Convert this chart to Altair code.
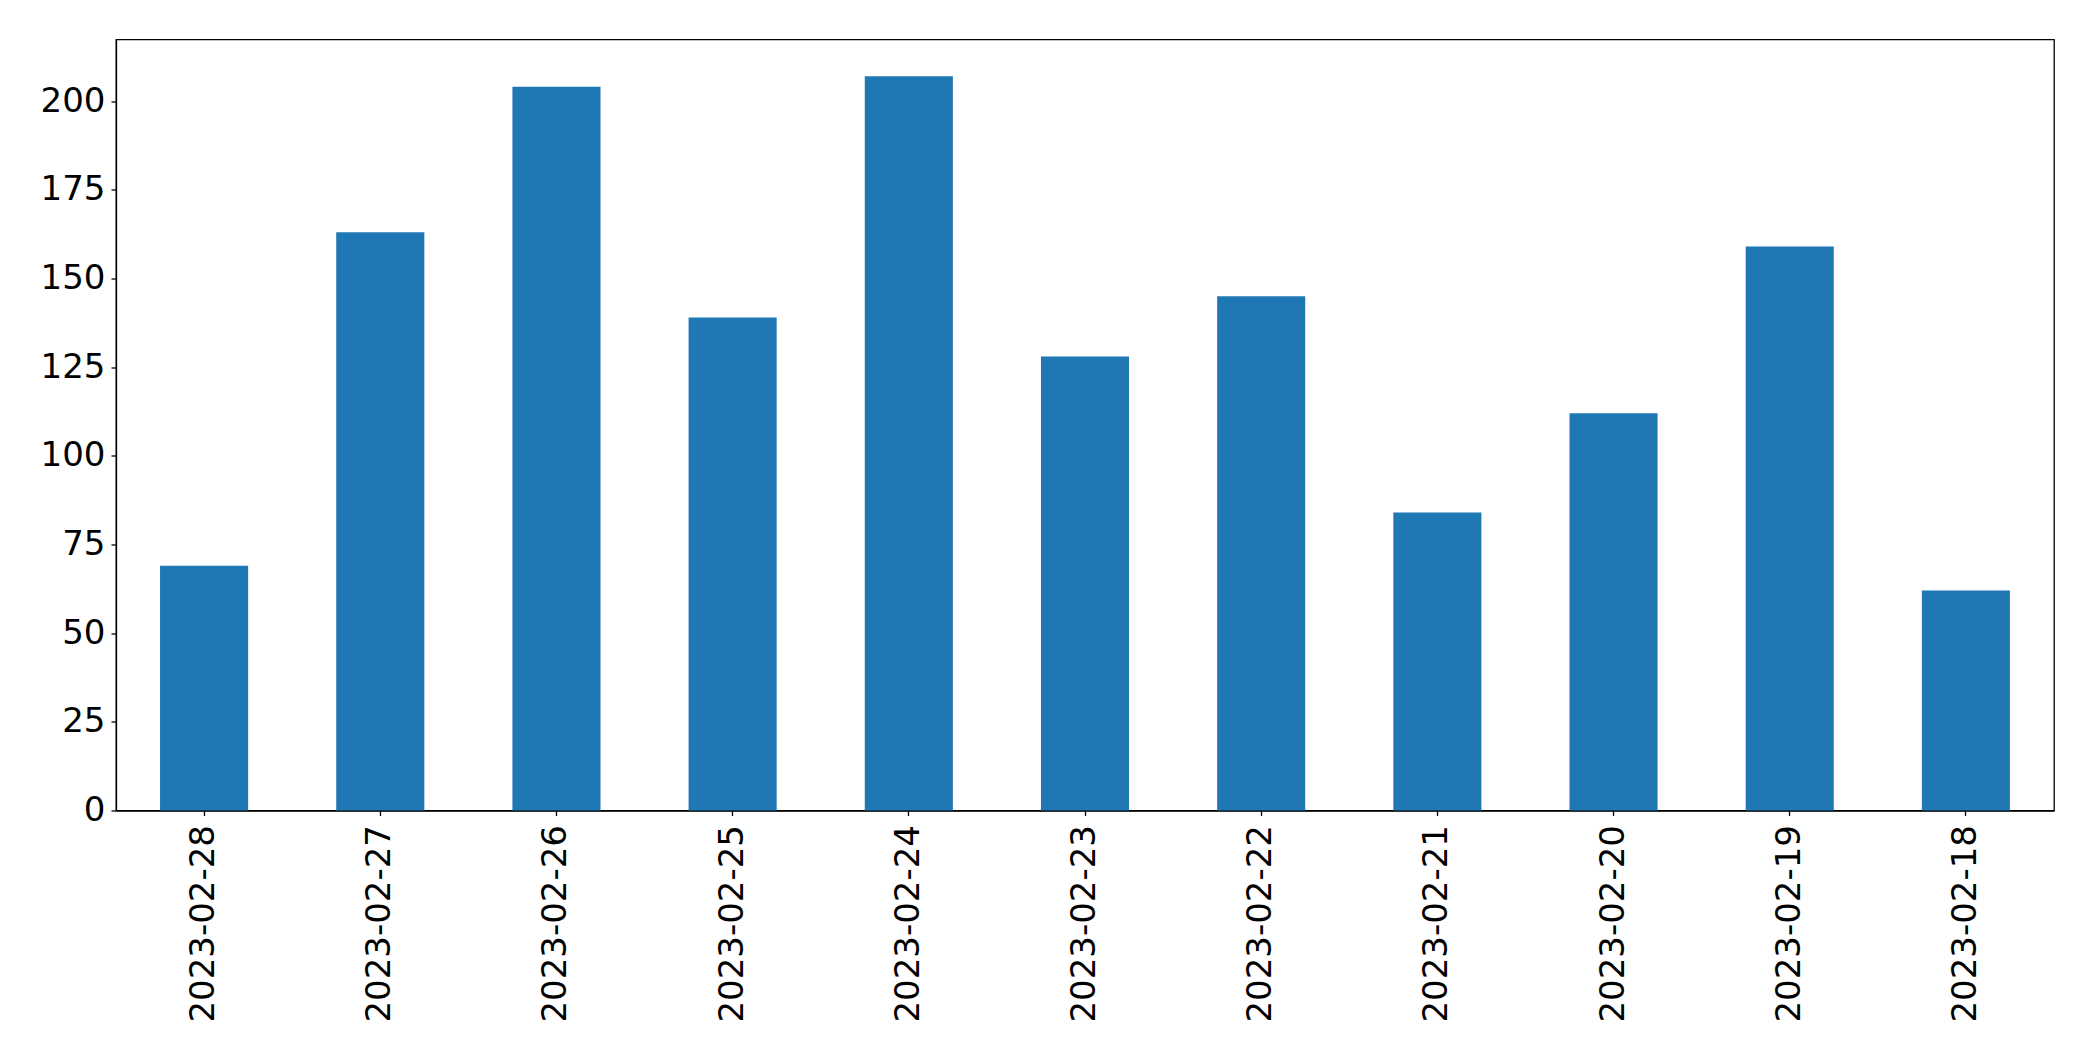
import altair as alt
import pandas as pd

dates = ["2023-02-28", "2023-02-27", "2023-02-26", "2023-02-25", "2023-02-24",
         "2023-02-23", "2023-02-22", "2023-02-21", "2023-02-20", "2023-02-19",
         "2023-02-18"]
counts = [69, 163, 204, 139, 207, 128, 145, 84, 112, 159, 62]
y_ticks = [0, 25, 50, 75, 100, 125, 150, 175, 200]

df = pd.DataFrame({"date": dates, "count": counts})

chart = alt.Chart(df).mark_bar(color="#1f77b4").encode(
    x=alt.X("date:N", sort=dates, title=None,
            scale=alt.Scale(paddingInner=0.5, paddingOuter=0.25),
            axis=alt.Axis(labelAngle=270, labelFont="DejaVu Sans", labelFontSize=34,
                          labelColor="black", tickColor="black", tickSize=5,
                          tickWidth=1.3, domainColor="black", domainWidth=1.3,
                          labelPadding=9, labelLimit=1000, grid=False)),
    y=alt.Y("count:Q", title=None,
            scale=alt.Scale(domain=[0, 217.35], nice=False, zero=True),
            axis=alt.Axis(values=y_ticks, labelFont="DejaVu Sans", labelFontSize=34,
                          labelColor="black", tickColor="black", tickSize=5,
                          tickWidth=1.3, domainColor="black", domainWidth=1.3,
                          labelPadding=6, grid=False)),
).properties(
    width=1938, height=771,
    autosize=alt.AutoSizeParams(type="none"),
    padding={"left": 108, "top": 31.5, "right": 30, "bottom": 230},
).configure_view(stroke="black", strokeWidth=1.3)

chart.save("out.html", embed_options={"renderer": "svg", "actions": False})
